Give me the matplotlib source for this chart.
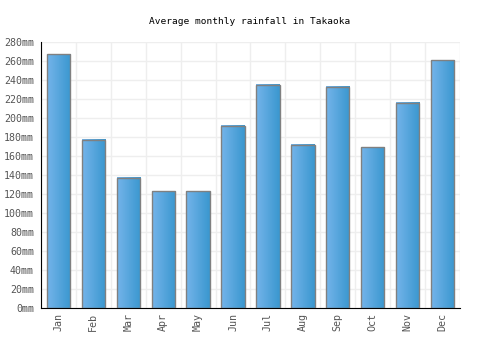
import numpy as np
import matplotlib
matplotlib.use('Agg')
import matplotlib.pyplot as plt
from matplotlib.colors import LinearSegmentedColormap

months = ['Jan', 'Feb', 'Mar', 'Apr', 'May', 'Jun', 'Jul', 'Aug', 'Sep', 'Oct', 'Nov', 'Dec']
rainfall = [267, 177, 137, 123, 123, 192, 235, 172, 233, 169, 216, 261]
y_ticks = list(range(0, 281, 20))

plt.rcParams['font.family'] = 'DejaVu Sans Mono'

fig = plt.figure(figsize=(5, 3.5), dpi=100)
ax = fig.add_axes([0.082, 0.12, 0.838, 0.76])

# gradient fill for bars, light on the left, darker on the right
cmap = LinearSegmentedColormap.from_list('bar', ['#74b4ea', '#3a97cf'])
grad = np.linspace(0, 1, 64).reshape(1, -1)

width = 0.67
x = np.arange(len(months))
bars = ax.bar(x, rainfall, width=width, facecolor='none', edgecolor='#808080', linewidth=1, zorder=3)
for b in bars:
    x0, y0 = b.get_x(), b.get_y()
    ax.imshow(grad, cmap=cmap, aspect='auto', zorder=2,
              extent=[x0, x0 + b.get_width(), y0, y0 + b.get_height()])

ax.set_xlim(-0.5, len(months) - 0.5)
ax.set_ylim(0, 280)
ax.set_yticks(y_ticks)
ax.set_yticklabels([f'{v}mm' for v in y_ticks], fontsize=7.2, color='#555555')
ax.set_xticks(x)
ax.set_xticklabels(months, rotation=90, fontsize=7.2, color='#555555')
ax.set_xticks(np.arange(-0.5, len(months), 1), minor=True)
ax.tick_params(which='both', length=0)
ax.tick_params(axis='y', pad=5)
ax.grid(True, which='minor', axis='x', color='#eeeeee', linewidth=1, zorder=0)
ax.grid(True, which='major', axis='y', color='#eeeeee', linewidth=1, zorder=0)

for s in ['top', 'right']:
    ax.spines[s].set_visible(False)
ax.spines['left'].set_color('black')
ax.spines['bottom'].set_color('black')

fig.text(0.5, 0.94, 'Average monthly rainfall in Takaoka', ha='center', va='center', fontsize=6.8, color='black')

fig.savefig('out.png', dpi=100)
